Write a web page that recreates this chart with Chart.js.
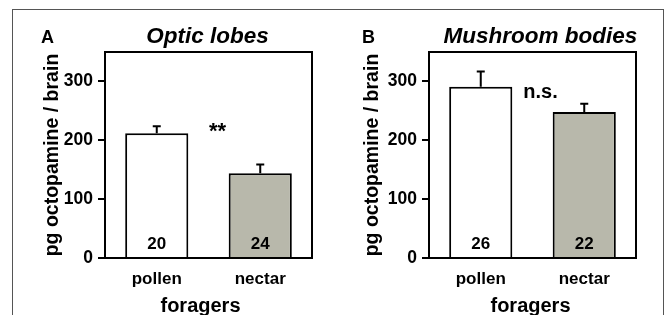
<!DOCTYPE html>
<html>
<head>
<meta charset="utf-8">
<script src="https://cdn.jsdelivr.net/npm/chart.js@4.4.1/dist/chart.umd.min.js"></script>
<style>
  html, body { margin: 0; padding: 0; background: #fff; }
  #fig { position: relative; width: 671px; height: 315px; overflow: hidden; }
  #frame { position: absolute; left: 12px; top: 9px; width: 650px; height: 330px; border: 1px solid #555; }
  .panel { position: absolute; top: 0; height: 315px; }
  #wrap-a { left: 0; width: 336px; }
  #wrap-b { left: 336px; width: 335px; }
</style>
</head>
<body>
<div id="fig">
  <div id="frame"></div>
  <div class="panel" id="wrap-a"><canvas id="c-a"></canvas></div>
  <div class="panel" id="wrap-b"><canvas id="c-b"></canvas></div>
</div>
<script>
// === DATA ===
const categories = ['pollen', 'nectar'];
const yTicks = [0, 100, 200, 300];
const yMax = 350;

const opticMeans = [212, 144];
const opticErr = [12, 15];
const opticN = [20, 24];

const mushMeans = [291, 248];
const mushErr = [26, 14];
const mushN = [26, 22];

const barColors = ['#ffffff', '#b8b8ab'];
const FONT = "'Liberation Sans', Arial, sans-serif";

// === PANEL PLUGIN: frame, error bars, n labels, titles ===
const panelPlugin = {
    id: 'panel',
    afterDatasetsDraw(chart, args, o) {
        const { ctx, chartArea: a, scales: { x, y } } = chart;
        const cx0 = (a.left + a.right) / 2;
        ctx.save();
        ctx.strokeStyle = '#000';
        ctx.fillStyle = '#000';
        ctx.lineWidth = 2;

        // error bars (upper half only)
        o.means.forEach((m, i) => {
            const cx = x.getPixelForValue(i);
            const y0 = y.getPixelForValue(m);
            const y1 = y.getPixelForValue(m + o.err[i]);
            ctx.beginPath();
            ctx.moveTo(cx, y0);
            ctx.lineTo(cx, y1);
            ctx.moveTo(cx - 4, y1);
            ctx.lineTo(cx + 4, y1);
            ctx.stroke();
        });

        // n inside bars
        ctx.font = 'bold 17px ' + FONT;
        ctx.textAlign = 'center';
        ctx.textBaseline = 'middle';
        o.n.forEach((n, i) => {
            ctx.fillText(String(n), x.getPixelForValue(i), y.getPixelForValue(24));
        });

        // significance
        const mid = (x.getPixelForValue(0) + x.getPixelForValue(1)) / 2;
        ctx.font = 'bold ' + o.sigSize + 'px ' + FONT;
        ctx.fillText(o.sig, mid + o.sigDx, y.getPixelForValue(o.sigY));

        // frame top + right
        ctx.beginPath();
        ctx.moveTo(a.left, a.top);
        ctx.lineTo(a.right, a.top);
        ctx.lineTo(a.right, a.bottom);
        ctx.stroke();

        // titles
        ctx.textBaseline = 'alphabetic';
        ctx.font = 'italic bold 22.5px ' + FONT;
        ctx.fillText(o.title, cx0 + o.titleDx, 43);
        ctx.font = 'bold 20px ' + FONT;
        ctx.fillText('foragers', cx0 + o.xTitleDx, 312);
        ctx.font = 'bold 18px ' + FONT;
        ctx.textAlign = 'left';
        ctx.fillText(o.letter, o.letterX, 43);
        ctx.restore();
    }
};

function mkPanel(id, means, err, n, opts) {
    const el = document.getElementById(id);
    return new Chart(el, {
        type: 'bar',
        data: {
            labels: categories,
            datasets: [{
                data: means,
                backgroundColor: barColors,
                borderColor: '#000',
                borderWidth: 2,
                categoryPercentage: 1,
                barPercentage: 0.61
            }]
        },
        options: {
            responsive: true,
            maintainAspectRatio: false,
            animation: false,
            layout: { padding: { left: opts.padLeft, right: opts.padRight, top: 52, bottom: 0 } },
            plugins: {
                legend: { display: false },
                tooltip: { enabled: false },
                panel: { means, err, n, ...opts }
            },
            scales: {
                x: {
                    afterFit: s => { s.height = 57; },
                    grid: { display: false, drawTicks: false },
                    border: { display: true, color: '#000', width: 2 },
                    ticks: { color: '#000', padding: 11, font: { family: FONT, size: 17, weight: 'bold' } }
                },
                y: {
                    min: 0, max: yMax,
                    afterFit: s => { s.width = opts.axisW; },
                    afterBuildTicks: s => { s.ticks = yTicks.map(v => ({ value: v })); },
                    grid: { drawOnChartArea: false, drawTicks: true, tickLength: 7, color: '#000', lineWidth: 2 },
                    border: { display: true, color: '#000', width: 2 },
                    ticks: { color: '#000', padding: 5, font: { family: FONT, size: 17.5, weight: 'bold' } },
                    title: {
                        display: true, text: 'pg octopamine / brain', color: '#000',
                        padding: 0,
                        font: { family: FONT, size: 19.5, weight: 'bold', lineHeight: 1.2 }
                    }
                }
            }
        },
        plugins: [panelPlugin]
    });
}

mkPanel('c-a', opticMeans, opticErr, opticN, {
    padLeft: 41, padRight: 24, axisW: 64,
    title: 'Optic lobes', titleDx: -1, xTitleDx: -8, letter: 'A', letterX: 41,
    sig: '**', sigSize: 22, sigDx: 9, sigY: 215
});
mkPanel('c-b', mushMeans, mushErr, mushN, {
    padLeft: 25, padRight: 35, axisW: 68,
    title: 'Mushroom bodies', titleDx: 8, xTitleDx: -2, letter: 'B', letterX: 26,
    sig: 'n.s.', sigSize: 20, sigDx: 8, sigY: 282
});
</script>
</body>
</html>
